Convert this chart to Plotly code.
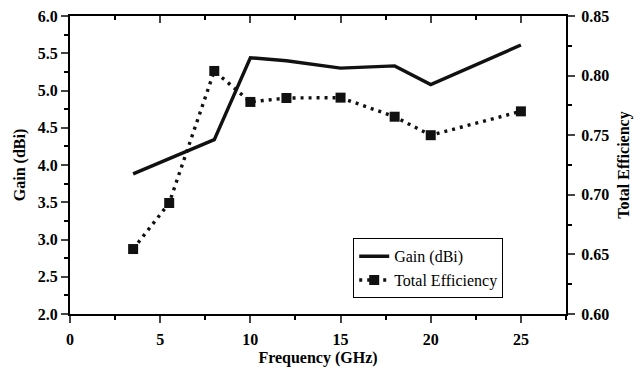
import plotly.graph_objects as go

gain_freq = [3.5, 8, 10, 12, 15, 18, 20, 25]
gain = [3.88, 4.34, 5.44, 5.40, 5.30, 5.33, 5.08, 5.61]
eff_freq = [3.5, 5.5, 8, 10, 12, 15, 18, 20, 25]
eff = [0.6545, 0.6931, 0.8039, 0.7779, 0.7812, 0.7815, 0.7655, 0.7500, 0.7700]

SERIF = "Liberation Serif"
tf = dict(family=SERIF, size=16, color="black", weight="bold")
titlef = dict(family=SERIF, size=16, color="black", weight="bold")

fig = go.Figure()
fig.add_trace(go.Scatter(x=gain_freq, y=gain, mode="lines", name="Gain (dBi)",
                         line=dict(color="#111", width=3.4), xaxis="x", yaxis="y"))
fig.add_trace(go.Scatter(x=eff_freq, y=eff, mode="lines+markers", name="Total Efficiency",
                         line=dict(color="#111", width=3.4, dash="3px,5px"),
                         marker=dict(symbol="square", size=10, color="#111"),
                         xaxis="x", yaxis="y2"))
fig.add_trace(go.Scatter(x=[None], y=[None], xaxis="x2", yaxis="y", showlegend=False, hoverinfo="skip"))

fig.update_layout(
    width=643, height=369,
    margin=dict(l=70, r=77, t=16, b=55),
    paper_bgcolor="white", plot_bgcolor="white",
    showlegend=True,
    legend=dict(x=0.571, y=0.254, xanchor="left", yanchor="top",
                bordercolor="black", borderwidth=1, bgcolor="white",
                font=dict(family=SERIF, size=16, color="black"),
                tracegroupgap=0, itemwidth=30),
    xaxis=dict(range=[0, 27.5], dtick=5, tick0=0, ticks="outside", ticklen=7, tickwidth=2,
               showline=True, linecolor="black", linewidth=2, showgrid=False, zeroline=False,
               tickfont=tf, ticklabelstandoff=3, automargin=False,
               minor=dict(ticks="outside", ticklen=4, tickwidth=1.5, dtick=2.5, tick0=0, tickcolor="black"),
               title=dict(text="Frequency (GHz)", font=titlef, standoff=5)),
    xaxis2=dict(range=[0, 27.5], dtick=5, tick0=0, overlaying="x", side="top", anchor="y",
                ticks="inside", ticklen=7, tickwidth=2, showticklabels=False, automargin=False,
                showline=True, linecolor="black", linewidth=2, showgrid=False, zeroline=False,
                minor=dict(ticks="inside", ticklen=4, tickwidth=1.5, dtick=2.5, tick0=0, tickcolor="black")),
    yaxis=dict(range=[2.0, 6.0], dtick=0.5, tick0=2, tickformat=".1f", ticks="outside", ticklen=7, tickwidth=2,
               showline=True, linecolor="black", linewidth=2, showgrid=False, zeroline=False,
               tickfont=tf, automargin=False,
               minor=dict(ticks="outside", ticklen=4, tickwidth=1.5, dtick=0.25, tick0=2, tickcolor="black"),
               title=dict(text="Gain (dBi)", font=titlef, standoff=8)),
    yaxis2=dict(range=[0.60, 0.85], dtick=0.05, tick0=0.6, tickformat=".2f", overlaying="y", side="right", anchor="x",
                ticks="outside", ticklen=7, tickwidth=2,
                showline=True, linecolor="black", linewidth=2, showgrid=False, zeroline=False,
                tickfont=tf, ticklabelstandoff=3, automargin=False,
                minor=dict(ticks="outside", ticklen=4, tickwidth=1.5, dtick=0.025, tick0=0.6, tickcolor="black"),
                title=dict(text="Total Efficiency", font=titlef, standoff=10)),
)

fig.write_html("out.html")
